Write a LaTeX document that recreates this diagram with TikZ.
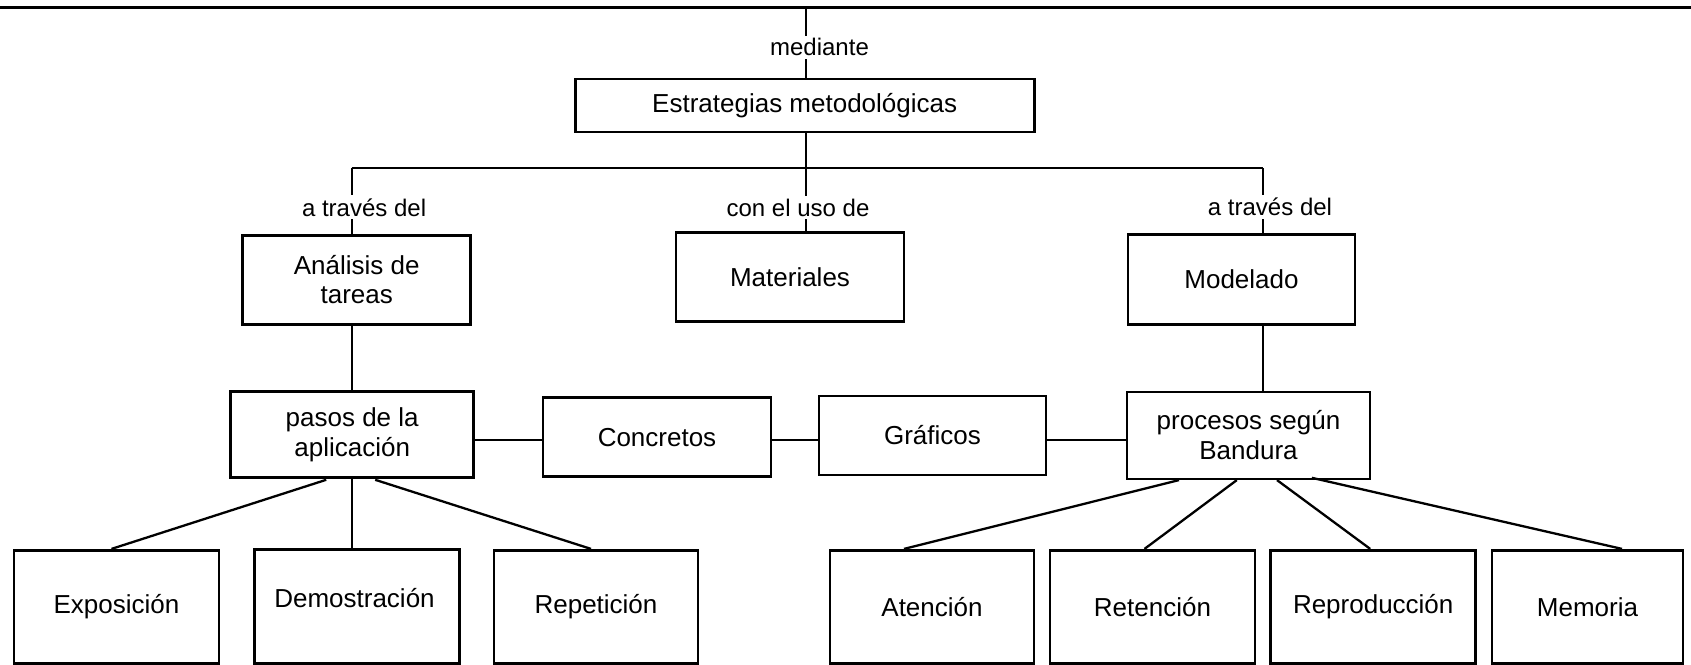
\documentclass[tikz,border=0pt]{standalone}
\usepackage{fontspec}
\setmainfont{Liberation Sans}
\usetikzlibrary{calc}
\begin{document}
\begin{tikzpicture}[x=0.5pt,y=-0.5pt,
  box/.style={draw,line width=1.3pt,rectangle,inner sep=0pt,align=center,font=\fontsize{13}{14.8}\selectfont},
  sz/.style 2 args={minimum width=#1*0.5pt,minimum height=#2*0.5pt},
  txt/.style={inner sep=0pt,font=\fontsize{13}{14.8}\selectfont},
  lab/.style={fill=white,inner sep=1.5pt,font=\fontsize{12}{14}\selectfont},
  con/.style={line width=1.15pt}]
\path[use as bounding box] (0,0) rectangle (1691,664);
% top line
\coordinate (tl) at (0,7.5);
\coordinate (tr) at (1691,7.5);
\coordinate (top) at (806,7.5);
\draw[line width=1.35pt] (tl) -- (tr);
% boxes
\node[box,sz={459}{53}] (est) at (804.7,105.3) {Estrategias metodológicas};
\node[box,sz={228}{89}] (ana) at (356.7,279.7) {Análisis de\\tareas};
\node[box,sz={228}{89}] (mat) at (790,277.2) {Materiales};
\node[box,sz={227}{90}] (mod) at (1241.5,279.2) {Modelado};
\node[box,sz={243}{86}] (pasos) at (352.2,434.5) {pasos de la\\aplicación};
\node[box,sz={228}{79}] (conc) at (657,437.2) {Concretos};
\node[box,sz={227}{79}] (graf) at (932.5,435.5) {Gráficos};
\node[box,sz={243}{87}] (proc) at (1248.5,435.3) {procesos según\\Bandura};
\node[box,sz={205}{113}] (expo) at (116.5,606.7) {Exposición};
\node[box,sz={205}{114}] (demo) at (356.8,606.3) {};
\node[txt] (demot) at (354.5,598.3) {Demostración};
\node[box,sz={204}{113}] (rep) at (596,606.7) {Repetición};
\node[box,sz={204}{113}] (aten) at (932,606.7) {Atención};
\node[box,sz={205}{113}] (ret) at (1152.5,606.7) {Retención};
\node[box,sz={205}{113}] (repro) at (1373.2,606.7) {Reproducción};
\node[box,sz={191}{113}] (mem) at (1587.5,606.7) {Memoria};
% connectors
\draw[con] (top) -- node[lab,pos=0.57,xshift=6.75pt] {mediante} (est.north -| top);
\coordinate (hub) at (806,168.3);
\coordinate (hl) at (351.7,168.3);
\coordinate (hr) at (1263,168.3);
\coordinate (rowy) at (0,440);
\draw[con] (est.south -| hub) -- (hub);
\draw[con] (hl) -- (hr);
\draw[con] (hl) -- node[lab,pos=0.595,xshift=6.2pt] {a través del} (ana.north -| hl);
\draw[con] (hub) -- node[lab,pos=0.62,xshift=-4pt] {con el uso de} (mat.north -| hub);
\draw[con] (hr) -- node[lab,pos=0.6,xshift=3.5pt] {a través del} (mod.north -| hr);
\draw[con] (ana.south -| hl) -- (pasos.north -| hl);
\draw[con] (mod.south -| hr) -- (proc.north -| hr);
\draw[con] (pasos.east |- rowy) -- (conc.west |- rowy);
\draw[con] (conc.east |- rowy) -- (graf.west |- rowy);
\draw[con] (graf.east |- rowy) -- (proc.west |- rowy);
\draw[con] ($(pasos.south)+(-26,1)$) -- ($(expo.north)+(-5,0)$);
\draw[con] (pasos.south -| hl) -- (demo.north -| hl);
\draw[con] ($(pasos.south)+(23,1)$) -- ($(rep.north)+(-5,0)$);
\draw[con] ($(proc.south)+(-69.5,0)$) -- ($(aten.north)+(-28,0)$);
\draw[con] ($(proc.south)+(-11.7,0)$) -- ($(ret.north)+(-8,0)$);
\draw[con] ($(proc.south)+(28.5,0)$) -- ($(repro.north)+(-3,0)$);
\draw[con] ($(proc.south)+(63.3,-2.3)$) -- ($(mem.north)+(34.5,0)$);
\end{tikzpicture}
\end{document}
